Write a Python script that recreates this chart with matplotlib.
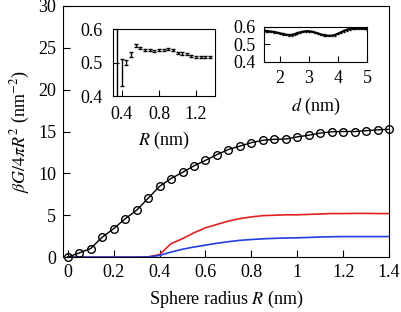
import numpy as np
import matplotlib
matplotlib.use("Agg")
import matplotlib.pyplot as plt

plt.rcParams['font.family'] = ['Liberation Serif', 'DejaVu Serif']
plt.rcParams['mathtext.fontset'] = 'stix'
plt.rcParams['font.size'] = 13

# main panel: surface free energy vs sphere radius
radius = [0.0, 0.05, 0.1, 0.15, 0.2, 0.25, 0.3, 0.35, 0.4, 0.45, 0.5, 0.55, 0.6, 0.65, 0.7,
          0.75, 0.8, 0.85, 0.9, 0.95, 1.0, 1.05, 1.1, 1.15, 1.2, 1.25, 1.3, 1.35, 1.4]
total = [0.0, 0.49, 1.02, 2.37, 3.39, 4.57, 5.59, 7.02, 8.45, 9.38, 10.12, 10.9, 11.55, 12.24, 12.85,
         13.26, 13.67, 13.95, 14.07, 14.1, 14.36, 14.56, 14.81, 14.97, 15.0, 15.0, 15.1, 15.2, 15.26]
red_part = [0, 0, 0, 0, 0, 0, 0, 0.02, 0.3, 1.6, 2.2, 2.9, 3.5, 3.9, 4.3,
            4.6, 4.8, 4.95, 5.0, 5.05, 5.05, 5.1, 5.15, 5.2, 5.2, 5.22, 5.22, 5.2, 5.2]
blue_part = [0, 0, 0, 0, 0, 0, 0, 0.01, 0.2, 0.6, 0.94, 1.2, 1.43, 1.65, 1.84,
             2.0, 2.1, 2.18, 2.24, 2.28, 2.3, 2.35, 2.4, 2.43, 2.45, 2.45, 2.45, 2.45, 2.45]

# inset 1: ratio vs R
r_in = [0.35, 0.4, 0.45, 0.5, 0.55, 0.6, 0.65, 0.7, 0.75, 0.8, 0.85, 0.9, 0.95,
        1.0, 1.05, 1.1, 1.15, 1.2, 1.25, 1.3, 1.35]
ratio_r = [0.45, 0.47, 0.501, 0.525, 0.55, 0.543, 0.538, 0.536, 0.535, 0.536, 0.538, 0.541, 0.536,
           0.528, 0.527, 0.525, 0.521, 0.518, 0.518, 0.516, 0.516]
ratio_r_err = [0.3, 0.04, 0.007, 0.007, 0.004, 0.004, 0.003, 0.003, 0.003, 0.003, 0.003, 0.003, 0.003,
               0.003, 0.003, 0.003, 0.003, 0.003, 0.003, 0.003, 0.003]

# inset 2: ratio vs d
d_in = [1.5, 1.6, 1.7, 1.8, 1.9, 2.0, 2.1, 2.2, 2.3, 2.4, 2.5, 2.6, 2.7, 2.8, 2.9, 3.0, 3.1, 3.2,
        3.3, 3.4, 3.5, 3.6, 3.7, 3.8, 3.9, 4.0, 4.1, 4.2, 4.3, 4.4, 4.5, 4.6, 4.7, 4.8, 4.9, 5.0]
ratio_d = [0.577, 0.575, 0.573, 0.570, 0.567, 0.563, 0.559, 0.555, 0.553, 0.554, 0.558, 0.564,
           0.569, 0.573, 0.575, 0.575, 0.572, 0.568, 0.563, 0.557, 0.553, 0.550, 0.549, 0.550,
           0.554, 0.561, 0.569, 0.577, 0.583, 0.587, 0.589, 0.590, 0.590, 0.590, 0.589, 0.588]

fig = plt.figure(figsize=(4.02, 3.12), dpi=100)
ax = fig.add_axes([0.157, 0.176, 0.811, 0.805])
ax.plot(radius, red_part, color='#e02020', lw=1.2)
ax.plot(radius, blue_part, color='#2040e0', lw=1.2)
ax.plot(radius, total, color='black', lw=1.0, marker='o', ms=5.5, mfc='none', mec='black', mew=1.0,
        clip_on=False, zorder=5)
ax.set_xlim(-0.02, 1.4)
ax.set_ylim(0, 30)
ax.set_xticks([0, 0.2, 0.4, 0.6, 0.8, 1.0, 1.2, 1.4])
ax.set_xticklabels(['0', '0.2', '0.4', '0.6', '0.8', '1', '1.2', '1.4'])
ax.set_yticks([0, 5, 10, 15, 20, 25, 30])
ax.tick_params(direction='in', top=False, right=False, length=5, pad=5)
ax.set_xlabel('Sphere radius $R$ (nm)', labelpad=6)
ax.set_ylabel(r'$\beta G/4\pi R^2$ (nm$^{-2}$)', labelpad=4)

ins1 = fig.add_axes([0.280, 0.692, 0.254, 0.215])
ins1.errorbar(r_in, ratio_r, yerr=ratio_r_err, fmt='none', ecolor='black', elinewidth=1.0, capsize=1.5)
ins1.set_xlim(0.3, 1.4)
ins1.set_ylim(0.4, 0.6)
ins1.set_xticks([0.4, 0.8, 1.2])
ins1.set_yticks([0.4, 0.5, 0.6])
ins1.tick_params(direction='in', length=4, pad=7)
ins1.set_xlabel('$R$ (nm)', labelpad=5)

ins2 = fig.add_axes([0.657, 0.802, 0.256, 0.112])
ins2.errorbar(d_in, ratio_d, yerr=0.004, fmt='-', color='black', lw=1.5, ecolor='black',
              elinewidth=1.0, capsize=1.0)
ins2.set_xlim(1.45, 5.0)
ins2.set_ylim(0.4, 0.6)
ins2.set_xticks([2, 3, 4, 5])
ins2.set_yticks([0.4, 0.5, 0.6])
ins2.tick_params(direction='in', length=4, pad=6)
ins2.set_xlabel('$d$ (nm)', labelpad=6)

fig.savefig('out.png', dpi=100)
